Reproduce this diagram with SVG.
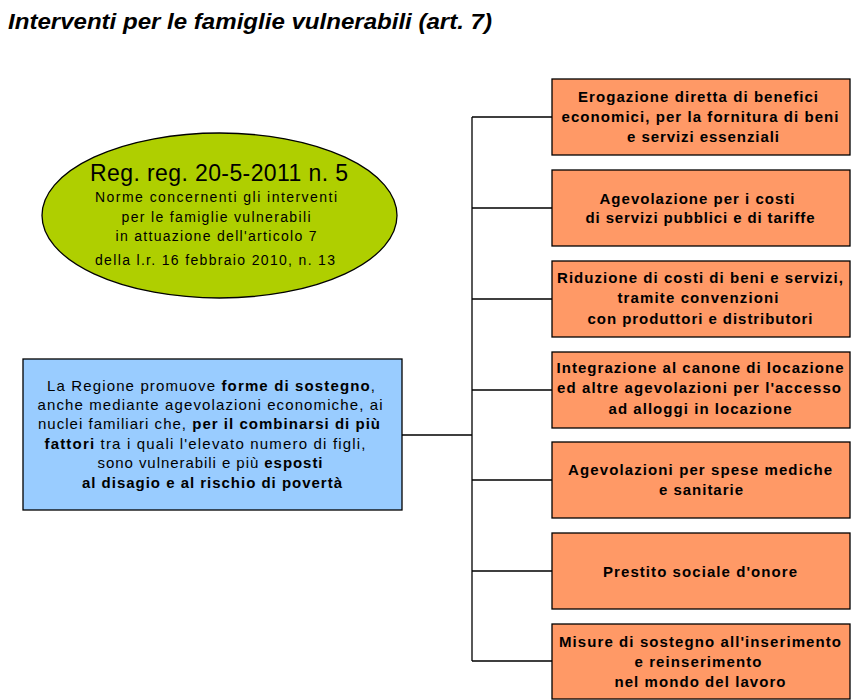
<svg xmlns="http://www.w3.org/2000/svg" width="851" height="700" viewBox="0 0 851 700">
<style>
.t{font-family:"Liberation Sans",Arial,sans-serif;fill:#000}
.title{font-size:22px;font-weight:bold;font-style:italic}
.ob{fill:#ff9966;stroke:#000;stroke-width:1.3}
.ot{font-size:15px;font-weight:bold;text-anchor:middle}
.bt{font-size:15px;text-anchor:middle}
.et{font-size:14px;text-anchor:middle}
.c{stroke:#000;stroke-width:1.3;fill:none}
</style>
<rect width="851" height="700" fill="#fff"/>
<text class="t title" x="8" y="29" textLength="484" lengthAdjust="spacingAndGlyphs">Interventi per le famiglie vulnerabili (art. 7)</text>
<g id="connectors">
<path class="c" d="M472 117V661M472 117H552M472 208H552M472 299H552M472 390H552M472 480H552M472 571H552M472 661H552M402 435H472"/>
</g>
<g id="ellipse">
<ellipse cx="219.5" cy="215.5" rx="177.5" ry="82.5" fill="#afcf00" stroke="#000" stroke-width="1.3"/>
<text class="t" x="219" y="181" font-size="23" text-anchor="middle" textLength="258">Reg. reg. 20-5-2011 n. 5</text>
<text class="t et" x="216" y="202" textLength="242">Norme concernenti gli interventi</text>
<text class="t et" x="216" y="222" textLength="189">per le famiglie vulnerabili</text>
<text class="t et" x="216" y="241" textLength="201">in attuazione dell'articolo 7</text>
<text class="t et" x="215" y="265" textLength="240">della l.r. 16 febbraio 2010, n. 13</text>
</g>
<g id="main">
<rect x="23" y="359" width="379" height="151" fill="#99ccff" stroke="#000" stroke-width="1.3"/>
<text class="t bt" x="211" y="391" textLength="328">La Regione promuove <tspan font-weight="bold">forme di sostegno</tspan>,</text>
<text class="t bt" x="210" y="410" textLength="345">anche mediante agevolazioni economiche, ai</text>
<text class="t bt" x="209" y="429" textLength="342">nuclei familiari che, <tspan font-weight="bold">per il combinarsi di più</tspan></text>
<text class="t bt" x="205" y="449" textLength="321"><tspan font-weight="bold">fattori</tspan>  tra i quali l'elevato numero di figli,</text>
<text class="t bt" x="210" y="468" textLength="225">sono vulnerabili e più <tspan font-weight="bold">esposti</tspan></text>
<text class="t bt" x="212" y="488" font-weight="bold" textLength="260">al disagio e al rischio di povertà</text>
</g>
<g id="b1">
<rect class="ob" x="552" y="79" width="298" height="76"/>
<text class="t ot" x="698" y="102" textLength="240">Erogazione diretta di benefici</text>
<text class="t ot" x="700" y="122" textLength="277">economici, per la fornitura di beni</text>
<text class="t ot" x="703" y="142" textLength="152">e servizi essenziali</text>
</g>
<g id="b2">
<rect class="ob" x="552" y="170" width="298" height="76"/>
<text class="t ot" x="697" y="204" textLength="195">Agevolazione per i costi</text>
<text class="t ot" x="700" y="223" textLength="229">di servizi pubblici e di tariffe</text>
</g>
<g id="b3">
<rect class="ob" x="552" y="261" width="298" height="76"/>
<text class="t ot" x="700" y="283" textLength="286">Riduzione di costi di beni e servizi,</text>
<text class="t ot" x="698" y="303" textLength="161">tramite convenzioni</text>
<text class="t ot" x="700" y="324" textLength="225">con produttori e distributori</text>
</g>
<g id="b4">
<rect class="ob" x="552" y="352" width="298" height="76"/>
<text class="t ot" x="700" y="373" textLength="287">Integrazione al canone di locazione</text>
<text class="t ot" x="699" y="393" textLength="284">ed altre agevolazioni per l'accesso</text>
<text class="t ot" x="700" y="414" textLength="183">ad alloggi in locazione</text>
</g>
<g id="b5">
<rect class="ob" x="552" y="442" width="298" height="76"/>
<text class="t ot" x="700" y="475" textLength="264">Agevolazioni per spese mediche</text>
<text class="t ot" x="701" y="495" textLength="84">e sanitarie</text>
</g>
<g id="b6">
<rect class="ob" x="552" y="533" width="298" height="76"/>
<text class="t ot" x="700" y="577" textLength="194">Prestito sociale d'onore</text>
</g>
<g id="b7">
<rect class="ob" x="552" y="624" width="298" height="75"/>
<text class="t ot" x="700" y="647" textLength="282">Misure di sostegno all'inserimento</text>
<text class="t ot" x="698" y="667" textLength="127">e reinserimento</text>
<text class="t ot" x="700" y="687" textLength="171">nel mondo del lavoro</text>
</g>
</svg>
